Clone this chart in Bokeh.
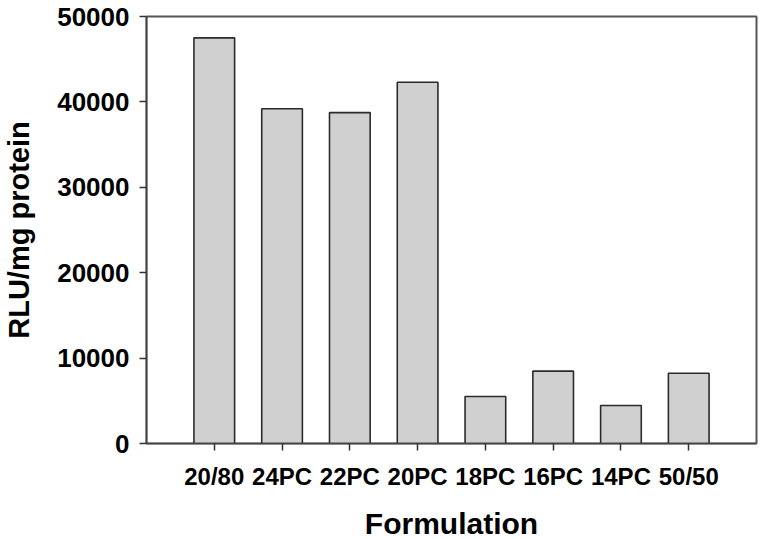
from bokeh.plotting import figure
from bokeh.models import FactorRange, Range1d, FixedTicker, BasicTickFormatter
from bokeh.embed import file_html
from bokeh.resources import INLINE

categories = ["20/80", "24PC", "22PC", "20PC", "18PC", "16PC", "14PC", "50/50"]
values = [47500, 39200, 38750, 42300, 5500, 8470, 4450, 8230]
y_ticks = [0, 10000, 20000, 30000, 40000, 50000]

FONT = "Liberation Sans"

p = figure(
    x_range=FactorRange(*categories, range_padding=0.5, range_padding_units="absolute"),
    y_range=Range1d(0, 50000),
    frame_width=610, frame_height=427,
    min_border_left=142, min_border_right=3, min_border_top=16, min_border_bottom=80,
    output_backend="svg", toolbar_location=None,
)

p.vbar(x=categories, top=values, width=0.6, fill_color="#D0D0D0",
       line_color="#2b2b2b", line_width=1.6)

p.xgrid.visible = False
p.ygrid.visible = False
p.outline_line_color = "#555555"
p.outline_line_width = 2
p.background_fill_color = "white"
p.border_fill_color = "white"

p.yaxis.ticker = FixedTicker(ticks=y_ticks)
p.yaxis.formatter = BasicTickFormatter(use_scientific=False)
p.yaxis.minor_tick_line_color = None

for ax in (p.xaxis[0], p.yaxis[0]):
    ax.axis_line_color = "#444444"
    ax.axis_line_width = 1.6
    ax.major_tick_line_color = "#333333"
    ax.major_tick_line_width = 1.5
    ax.major_tick_in = 0
    ax.major_tick_out = 7
    ax.major_label_text_font = FONT
    ax.major_label_text_font_style = "bold"
    ax.major_label_text_color = "black"
    ax.axis_label_text_font = FONT
    ax.axis_label_text_font_style = "bold"
    ax.axis_label_text_color = "black"

p.yaxis.axis_label = "RLU/mg protein"
p.yaxis.major_label_text_font_size = "26px"
p.yaxis.axis_label_text_font_size = "29px"
p.yaxis.major_label_standoff = 10
p.yaxis.axis_label_standoff = 19

p.xaxis.axis_label = "Formulation"
p.xaxis.major_label_text_font_size = "24px"
p.xaxis.axis_label_text_font_size = "30px"
p.xaxis.major_label_standoff = 12
p.xaxis.axis_label_standoff = 14

open("out.html", "w").write(file_html(p, INLINE))
